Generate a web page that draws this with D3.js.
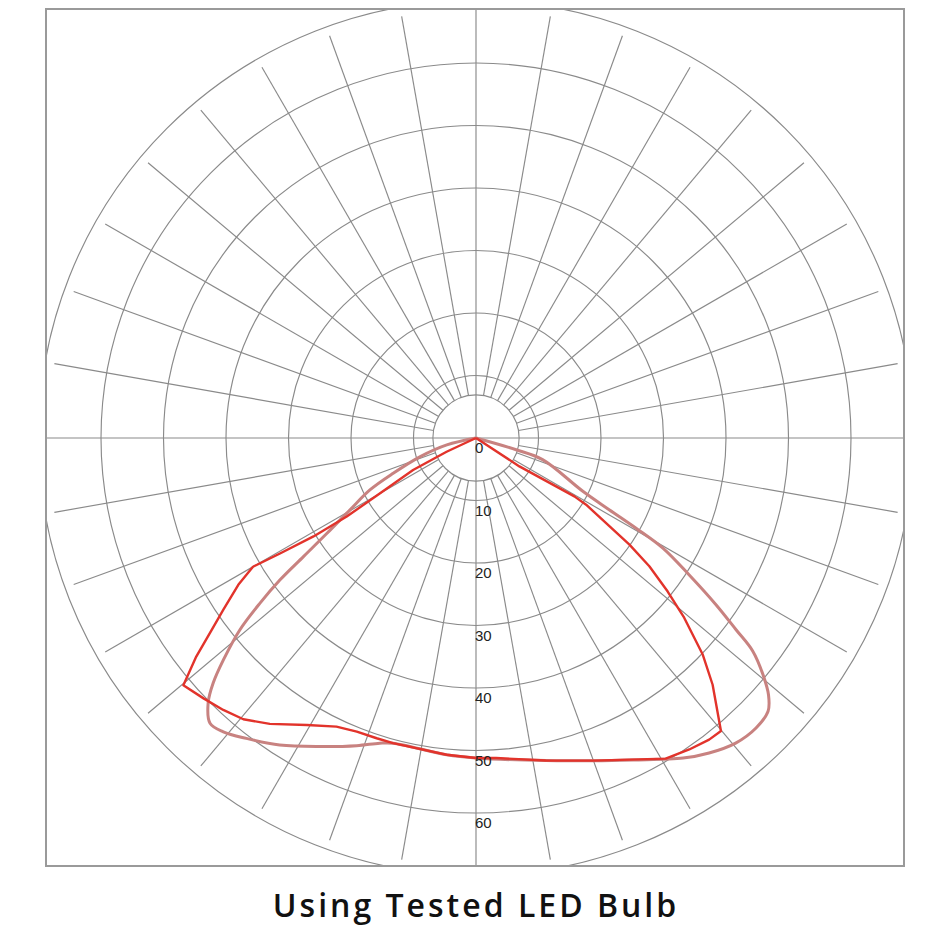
<!DOCTYPE html>
<html>
<head>
<meta charset="utf-8">
<script src="https://cdn.jsdelivr.net/npm/d3@7/dist/d3.min.js"></script>
<style>
  html, body { margin: 0; padding: 0; background: #ffffff; }
  svg { display: block; }
</style>
</head>
<body>
<svg id="chart" width="950" height="950"></svg>
<script>
// ---- data (angle in degrees from nadir, positive = right; value in chart units) ----
const ringValues = [10, 20, 30, 40, 50, 60, 70];
const ringLabels = ["0", "10", "20", "30", "40", "50", "60"];
const labelValues = [0, 10, 20, 30, 40, 50, 60];
const innerRingValue = 6.9;
const spokeEndValue = 68.5;
const spokeAngles = [0, 10, 20, 30, 40, 50, 60, 70, 80, 90, 100, 110, 120, 130, 140, 150, 160, 170,
                     180, 190, 200, 210, 220, 230, 240, 250, 260, 270, 280, 290, 300, 310, 320, 330, 340, 350];

const seriesRedAngles = [-90, -64.9, -63.0, -60.1, -58.7, -58.8, -59.5, -60.0, -58.3, -55.8, -54.3, -52.0, -49.8,
  -46.3, -42.9, -39.6, -35.8, -30.5, -25.8, -22.1, -18.3, -15.2, -5.3, 0, 3.6, 12.2, 19.9, 30.6,
  34.4, 37.7, 39.9, 43.8, 46.3, 49.2, 51.3, 53.5, 55.2, 58.8, 59.3, 56.8, 90];
const seriesRedValues = [0, 5.2, 11.3, 17.7, 24.2, 30.4, 36.4, 41.2, 44.7, 48.9, 51.7, 56.8, 61.3,
  60.3, 59.4, 58.4, 56.4, 53.3, 51.3, 50.7, 50.6, 50.6, 50.9, 51.2, 51.3, 52.8, 54.9, 59.6,
  60.4, 61.0, 61.1, 54.7, 50.2, 44.0, 39.3, 34.5, 29.9, 20.6, 18.3, 8.3, 0];

const seriesRoseAngles = [-90, -76.6, -71.5, -66.9, -63.9, -60.3, -57.4, -55.5, -54.1, -52.6, -50.9, -48.7, -47.0,
  -45.3, -43.0, -40.7, -37.4, -32.6, -26.8, -21.2, -17.5, -15.2, -5.3, 0, 12.2, 19.9, 26.0, 32.9,
  36.5, 40.4, 44.0, 46.9, 48.7, 50.5, 52.4, 53.6, 55.2, 57.3, 59.5, 60.6, 61.7, 63.5, 72.0, 73.7, 90];
const seriesRoseValues = [0, 4.8, 9.4, 14.4, 18.9, 23.2, 28.3, 33.5, 38.7, 43.5, 48.7, 53.8, 57.5,
  60.3, 62.4, 62.0, 60.5, 58.3, 55.3, 52.8, 51.2, 50.6, 50.9, 51.2, 52.8, 54.9, 57.3, 61.0,
  62.7, 64.1, 64.5, 64.0, 62.3, 59.5, 55.9, 51.7, 46.8, 40.5, 34.7, 29.4, 24.2, 19.1, 11.2, 6.7, 0];

const titleText = "Using Tested LED Bulb";

// ---- layout ----
const cx = 476, cy = 438;
const frame = { x: 46, y: 9, w: 858, h: 857 };

const svg = d3.select("#chart");

const r = d3.scaleLinear().domain([0, 70]).range([0, 437.5]);
// angle from nadir (deg, + to the right) -> d3 radial angle (rad, 0 = up, clockwise)
const a = d3.scaleLinear().domain([-180, 180]).range([2 * Math.PI, 0]);

svg.append("defs").append("clipPath").attr("id", "frameClip")
  .append("rect").attr("x", frame.x).attr("y", frame.y).attr("width", frame.w).attr("height", frame.h);

const g = svg.append("g").attr("clip-path", "url(#frameClip)");
const gridColor = "#8a8a8a";
const gridWidth = 1.15;

// rings
g.selectAll("circle.ring")
  .data([innerRingValue].concat(ringValues))
  .join("circle")
  .attr("class", "ring")
  .attr("cx", cx).attr("cy", cy)
  .attr("r", d => r(d))
  .attr("fill", "none")
  .attr("stroke", gridColor)
  .attr("stroke-width", gridWidth);

// spokes (every 10 degrees, except the main axes)
g.selectAll("line.spoke")
  .data(spokeAngles.filter(d => d % 90 !== 0))
  .join("line")
  .attr("class", "spoke")
  .attr("x1", d => cx + r(innerRingValue) * Math.sin(a(d)))
  .attr("y1", d => cy - r(innerRingValue) * Math.cos(a(d)))
  .attr("x2", d => cx + r(spokeEndValue) * Math.sin(a(d)))
  .attr("y2", d => cy - r(spokeEndValue) * Math.cos(a(d)))
  .attr("stroke", gridColor)
  .attr("stroke-width", gridWidth);

// main axes across the frame
g.append("line").attr("x1", frame.x).attr("x2", frame.x + frame.w).attr("y1", cy).attr("y2", cy)
  .attr("stroke", gridColor).attr("stroke-width", gridWidth);
g.append("line").attr("x1", cx).attr("x2", cx).attr("y1", frame.y).attr("y2", frame.y + frame.h)
  .attr("stroke", gridColor).attr("stroke-width", gridWidth);

// curves
const toPts = (angs, vals) => angs.map((d, i) => ({ ang: d, val: vals[i] }));
const lineRed = d3.lineRadial().angle(d => a(d.ang)).radius(d => r(d.val)).curve(d3.curveLinear);
const lineRose = d3.lineRadial().angle(d => a(d.ang)).radius(d => r(d.val)).curve(d3.curveCatmullRom.alpha(0.5));

const plot = svg.append("g").attr("transform", `translate(${cx},${cy})`);
plot.append("path")
  .datum(toPts(seriesRoseAngles, seriesRoseValues))
  .attr("d", lineRose)
  .attr("fill", "none")
  .attr("stroke", "#c88280")
  .attr("stroke-width", 3)
  .attr("stroke-linejoin", "round");
plot.append("path")
  .datum(toPts(seriesRedAngles, seriesRedValues))
  .attr("d", lineRed)
  .attr("fill", "none")
  .attr("stroke", "#e2332b")
  .attr("stroke-width", 2.4)
  .attr("stroke-linejoin", "round");

// ring labels
svg.selectAll("text.rl")
  .data(labelValues)
  .join("text")
  .attr("class", "rl")
  .attr("x", cx - 1)
  .attr("y", d => cy + r(d) + 15)
  .attr("font-family", "Liberation Sans, Arial, sans-serif")
  .attr("font-size", 15)
  .attr("fill", "#222")
  .text((d, i) => ringLabels[i]);

// frame
svg.append("rect")
  .attr("x", frame.x).attr("y", frame.y).attr("width", frame.w).attr("height", frame.h)
  .attr("fill", "none").attr("stroke", "#9a9a9a").attr("stroke-width", 2);

// title
svg.append("text")
  .attr("x", 476).attr("y", 917)
  .attr("text-anchor", "middle")
  .attr("font-family", "Open Sans, sans-serif")
  .attr("font-weight", 600)
  .attr("font-size", 32)
  .attr("letter-spacing", 3)
  .attr("fill", "#111")
  .text(titleText);
</script>
</body>
</html>
